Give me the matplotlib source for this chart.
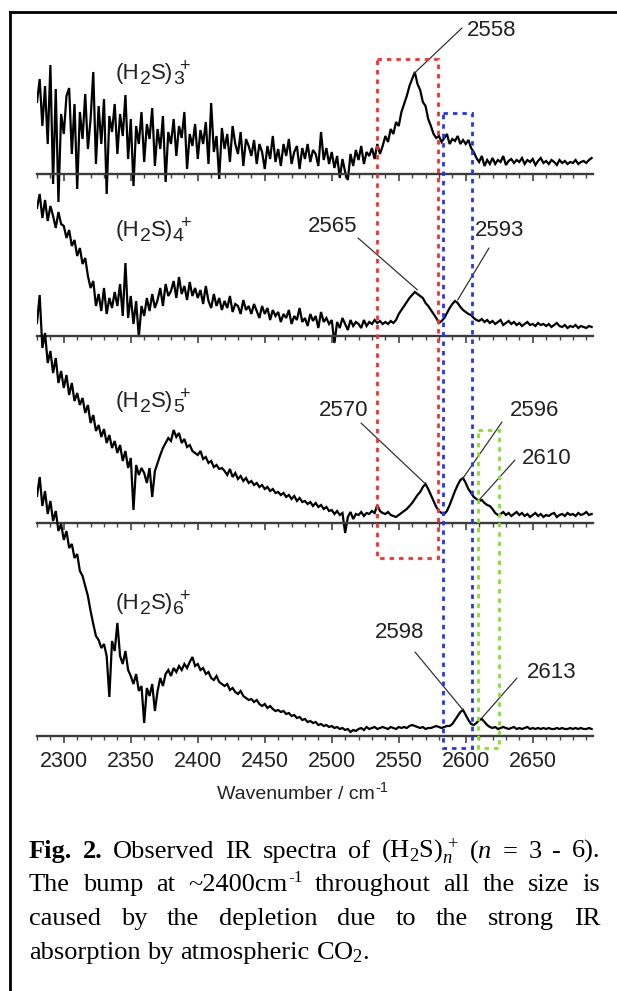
import numpy as np
import matplotlib
matplotlib.use("Agg")
import matplotlib.pyplot as plt
from matplotlib.ticker import MultipleLocator
from matplotlib.lines import Line2D
from matplotlib.patches import Rectangle

plt.rcParams['mathtext.fontset'] = 'custom'
plt.rcParams['mathtext.rm'] = 'Liberation Serif'
plt.rcParams['mathtext.it'] = 'Liberation Serif:italic'
plt.rcParams['mathtext.bf'] = 'Liberation Serif:bold'

# ---------------- data ----------------
wavenumber = np.arange(2280, 2695, 2)   # cm-1, 2280 ... 2694

# (H2S)3+
n3 = [72, 95, 48, 88, 30, 109, -10, 85, -28, 60,
      40, 78, 86, 20, 70, -15, 62, 35, 80, 25,
      55, 102, 10, 68, 30, 75, -20, 58, 42, 70,
      20, 60, 38, 79, 15, 55, -12, 48, 30, 62,
      12, 50, 35, 66, 8, 45, 25, 58, -8, 42,
      30, 55, 18, 48, 36, 62, 5, 40, 28, 50,
      15, 44, 30, 52, 10, 71, 22, 38, -5, 46,
      25, 40, 12, 48, 30, 20, 42, 8, 35, 28,
      18, 34, 10, 30, 22, 5, 28, 15, 38, 12,
      25, 8, 30, 18, 35, 10, 22, 28, 5, 26,
      15, 30, 12, 24, 20, 8, 42, 14, 26, 10,
      22, 6, 18, -4, 15, 2, -6, 20, 8, 24,
      14, 28, 10, 22, 18, 26, 15, 30, 20, 28,
      38, 32, 45, 40, 52, 48, 62, 70, 78, 88,
      95, 102, 90, 84, 72, 68, 55, 48, 40, 36,
      38, 32, 36, 40, 30, 35, 33, 38, 30, 34,
      30, 34, 26, 22, 16, 12, 18, 8, 14, 10,
      16, 10, 14, 12, 18, 9, 13, 15, 11, 14,
      12, 16, 10, 14, 12, 15, 9, 13, 16, 11,
      13, 10, 14, 12, 9, 14, 11, 13, 10, 12,
      11, 14, 10, 12, 13, 11, 14, 16]

# (H2S)4+
n4 = [128, 142, 118, 136, 115, 130, 120, 108, 124, 112,
      110, 98, 106, 90, 96, 80, 88, 72, 78, 60,
      48, 55, 30, 42, 25, 48, 22, 38, 28, 44,
      30, 52, 20, 73, 18, 40, 12, 35, -1, 30,
      20, 38, 25, 42, 28, 36, 48, 30, 52, 40,
      45, 55, 38, 59, 42, 50, 36, 54, 40, 48,
      38, 46, 32, 50, 35, 28, 42, 30, 38, 26,
      35, 28, 40, 24, 32, 30, 22, 36, 26, 30,
      22, 32, 25, 18, 30, 22, 28, 16, 26, 20,
      24, 14, 22, 18, 26, 12, 20, 16, 28, 14,
      18, 10, 22, 15, 20, 8, 24, 14, 18, 12,
      16, -7, 14, 8, 18, 12, 6, 16, 10, 14,
      12, 8, 16, 10, 14, 12, 16, 13, 15, 12,
      14, 12, 15, 13, 16, 22, 26, 30, 34, 38,
      41, 44, 42, 40, 38, 33, 30, 26, 22, 18,
      13, 15, 18, 23, 28, 32, 35, 33, 29, 26,
      24, 22, 21, 18, 16, 15, 17, 14, 16, 13,
      15, 12, 14, 16, 11, 13, 15, 12, 14, 11,
      13, 10, 12, 14, 11, 12, 10, 13, 11, 12,
      10, 12, 9, 11, 13, 10, 9, 11, 8, 10,
      9, 11, 8, 10, 9, 8, 10, 9]

# (H2S)5+
n5 = [200, 228, 175, 190, 160, 172, 150, 165, 140, 152,
      135, 148, 128, 140, 122, 130, 118, 125, 110, 118,
      100, 108, 92, 98, 86, 94, 80, 88, 75, 82,
      70, 78, 62, 72, 55, 65, 13, 58, 48, 55,
      50, 40, 55, 26, 52, 60, 68, 75, 80, 85,
      82, 93, 86, 90, 80, 84, 76, 78, 72, 70,
      68, 72, 64, 66, 60, 62, 56, 58, 54, 55,
      52, 48, 54, 46, 50, 44, 47, 42, 45, 40,
      42, 38, 40, 36, 38, 34, 36, 32, 34, 30,
      31, 28, 30, 26, 28, 24, 27, 22, 25, 21,
      22, 19, 21, 17, 20, 16, 18, 14, 16, 12,
      13, 9, 12, 8, 10, -10, 6, 11, 4, 9,
      8, 11, 7, 10, 9, 12, 10, 18, 12, 10,
      9, 11, 8, 7, 6, 8, 10, 12, 14, 17,
      20, 24, 28, 31, 36, 39, 34, 28, 22, 16,
      12, 10, 9, 12, 18, 25, 32, 38, 43, 45,
      40, 34, 30, 26, 24, 22, 23, 20, 18, 17,
      14, 10, 8, 9, 11, 8, 10, 7, 9, 11,
      8, 10, 7, 9, 6, 8, 10, 7, 9, 6,
      8, 7, 9, 10, 6, 8, 9, 7, 10, 8,
      9, 7, 10, 8, 9, 11, 8, 9]

# (H2S)6+
n6 = [240, 259, 230, 245, 222, 235, 215, 225, 205, 212,
      196, 205, 188, 192, 178, 182, 165, 160, 150, 140,
      125, 112, 100, 96, 88, 92, 80, 39, 95, 85,
      113, 80, 72, 85, 66, 60, 52, 62, 45, 50,
      13, 48, 40, 52, 25, 45, 58, 50, 62, 66,
      60, 68, 64, 70, 66, 72, 68, 74, 79, 70,
      72, 66, 68, 62, 64, 58, 56, 60, 54, 52,
      50, 52, 46, 48, 44, 42, 45, 40, 38, 36,
      37, 34, 36, 32, 30, 32, 28, 30, 27, 25,
      26, 24, 25, 22, 23, 20, 21, 18, 19, 16,
      17, 14, 15, 13, 14, 11, 12, 10, 11, 9,
      10, 8, 9, 7, 8, 6, 7, 4, 6, 5,
      7, 8, 6, 9, 7, 8, 9, 7, 8, 9,
      8, 7, 9, 8, 7, 9, 8, 9, 8, 10,
      11, 10, 9, 8, 9, 7, 8, 8, 9, 10,
      9, 8, 9, 10, 10, 12, 16, 20, 24, 26,
      21, 16, 12, 11, 13, 16, 17, 14, 11, 9,
      8, 9, 7, 8, 9, 8, 7, 8, 9, 7,
      8, 7, 8, 9, 7, 8, 7, 8, 7, 8,
      7, 8, 7, 7, 8, 7, 8, 7, 7, 8,
      7, 8, 7, 8, 7, 7, 8, 7]

series = [n3, n4, n5, n6]
species = ["3", "4", "5", "6"]

# peak labels: (spectrum index, label, peak wavenumber, peak height)
peaks = [(0, "2558", 2561, 100),
         (1, "2565", 2564, 46), (1, "2593", 2594, 36),
         (2, "2570", 2570, 39), (2, "2596", 2597, 43), (2, "2610", 2610, 23),
         (3, "2598", 2598, 26), (3, "2613", 2612, 18)]

# dashed boxes: wavenumber ranges
box_red = (2533.5, 2579.0)
box_blue = (2583.0, 2604.5)
box_green = (2609.0, 2624.5)

x_ticks_major = 50
x_ticks_minor = 10
x_range = (2280, 2695)

# ---------------- layout (pixels) ----------------
W, H = 617, 991
fig = plt.figure(figsize=(W / 100, H / 100), dpi=100)
fig.patch.set_facecolor("white")
renderer = fig.canvas.get_renderer()

def fx(px):
    return px / W

def fy(py):
    return (H - py) / H

def make_runs(runs, base_px, **common):
    """runs: list of (text, fontsize, dy_px, dx_px, extra kwargs)."""
    texts, widths = [], []
    for text, fs, dy, dx, kw in runs:
        opts = dict(common)
        opts.update(kw)
        t = fig.text(0, fy(base_px + dy), text, fontsize=fs, ha="left", va="baseline", **opts)
        texts.append((t, dx))
        widths.append(t.get_window_extent(renderer).width)
    return texts, widths

def place_runs(texts, widths, x0):
    x = x0
    for (t, dx), w in zip(texts, widths):
        x += dx
        t.set_x(fx(x))
        x += w
    return x

baselines = [174, 336, 523, 736]
YMIN, YMAX = -45, 275
X0, X1 = 37, 593
sans = "Liberation Sans"

axes = []
for i, (b, vals) in enumerate(zip(baselines, series)):
    ax = fig.add_axes([fx(X0), (H - b + YMIN) / H, (X1 - X0) / W, (YMAX - YMIN) / H])
    ax.patch.set_visible(False)
    ax.plot(wavenumber, vals, color="black", lw=1.6, solid_joinstyle="miter")
    ax.set_xlim(*x_range)
    ax.set_ylim(YMIN, YMAX)
    for s in ("top", "left", "right"):
        ax.spines[s].set_visible(False)
    ax.spines["bottom"].set_position(("data", 0))
    ax.spines["bottom"].set_color("#3c3c3c")
    ax.spines["bottom"].set_linewidth(1.7)
    ax.set_yticks([])
    ax.xaxis.set_major_locator(MultipleLocator(x_ticks_major))
    ax.xaxis.set_minor_locator(MultipleLocator(x_ticks_minor))
    ax.tick_params(axis="x", which="major", direction="out", length=5, width=1.2,
                   color="#444444", labelsize=15.5, labelcolor="#222222", pad=6)
    ax.tick_params(axis="x", which="minor", direction="out", length=3, width=1.0,
                   color="#444444")
    if i < 3:
        ax.tick_params(axis="x", which="both", labelbottom=False)
    else:
        for lab in ax.get_xticklabels():
            lab.set_fontfamily(sans)
    axes.append(ax)

# species labels  (H2S)n+  built from runs
species_base = [79, 236, 407, 609]
for sp, yb in zip(species, species_base):
    runs = [("(H", 16, 0, 0, {}),
            ("2", 14, 5, 0, {}),
            ("S)", 16, 0, 0, {}),
            (sp, 14, 5, 0, {}),
            ("+", 13, -8, -4, {})]
    tx, ws = make_runs(runs, yb, family=sans, color="#222222")
    place_runs(tx, ws, 116)

# peak annotations: leader start (px) and label anchor
leader_start = [(462, 28), (358, 238), (489, 248), (361, 423), (502, 422), (515, 460),
                (415, 652), (517, 678)]
label_anchor = [(467, 30, "left"), (357, 227, "right"), (475, 230, "left"),
                (368, 410, "right"), (510, 410, "left"), (522, 458, "left"),
                (375, 632, "left"), (527, 673, "left")]
for (si, lab, wn, hgt), (sx, sy), (lx, ly, ha) in zip(peaks, leader_start, label_anchor):
    axes[si].annotate("", xy=(wn, hgt), xycoords="data", xytext=(sx, H - sy),
                      textcoords="figure pixels",
                      arrowprops=dict(arrowstyle="-", color="#333333", lw=0.9,
                                      shrinkA=0, shrinkB=0))
    fig.text(fx(lx), fy(ly), lab, ha=ha, va="center", fontsize=16, family=sans,
             color="#222222")

# dashed boxes overlay
ov = fig.add_axes([fx(X0), 0, (X1 - X0) / W, 1])
ov.set_xlim(*x_range)
ov.set_ylim(H, 0)
ov.axis("off")
ov.patch.set_visible(False)
for (a, bnd), (ytop, ybot), col in zip([box_red, box_blue, box_green],
                                        [(59, 558), (113, 748), (430, 748)],
                                        ["#ff2a2a", "#2233ff", "#88e02a"]):
    ov.add_patch(Rectangle((a, ytop), bnd - a, ybot - ytop, fill=False, ec=col,
                           lw=2.0, ls=(0, (1.6, 1.8)), zorder=5))

# axis title with a hyphen superscript
tx, ws = make_runs([("Wavenumber / cm", 14, 0, 0, {}), ("-1", 10.5, -7, 1, {})], 799,
                   family=sans, color="#222222")
place_runs(tx, ws, 303 - sum(ws) / 2 - 0.5)

# frame lines (left and top)
fig.add_artist(Line2D([fx(10), fx(10)], [0, fy(12)], transform=fig.transFigure,
                      color="black", lw=2.0))
fig.add_artist(Line2D([fx(10), 1], [fy(12), fy(12)], transform=fig.transFigure,
                      color="black", lw=2.0))

# caption (justified)
CAP_FS = 19
L, R = 29, 600
B = {"fontweight": "bold"}
N = {}
def w1(s, kw=N):
    return [(s, CAP_FS, 0, 0, kw)]
cap_lines = [
    ([w1("Fig.", B), w1("2.", B), w1("Observed"), w1("IR"), w1("spectra"), w1("of"),
      w1(r"$\mathrm{(H_2S)}_{n}^{\,+}$"), w1(r"($n$"), w1("="), w1("3"), w1("-"),
      w1("6).")], 858, True),
    ([w1("The"), w1("bump"), w1("at"),
      [("~2400cm", CAP_FS, 0, 0, N), ("-1", 12.5, -9, 1, N)],
      w1("throughout"), w1("all"), w1("the"), w1("size"), w1("is")], 891, True),
    ([w1("caused"), w1("by"), w1("the"), w1("depletion"), w1("due"), w1("to"), w1("the"),
      w1("strong"), w1("IR")], 925, True),
    ([w1("absorption"), w1("by"), w1("atmospheric"), w1(r"CO$_{\mathrm{2}}$.")], 959, False),
]
space_w = 0.25 * CAP_FS * 100 / 72
for tokens, yb, just in cap_lines:
    made = [make_runs(tok, yb, family="Liberation Serif", color="black") for tok in tokens]
    tot = [sum(ws) for _, ws in made]
    gap = (R - L - sum(tot)) / (len(made) - 1) if just else space_w
    x = L
    for (tx, ws), t in zip(made, tot):
        place_runs(tx, ws, x)
        x += t + gap

fig.savefig("out.png", dpi=100, facecolor="white")
